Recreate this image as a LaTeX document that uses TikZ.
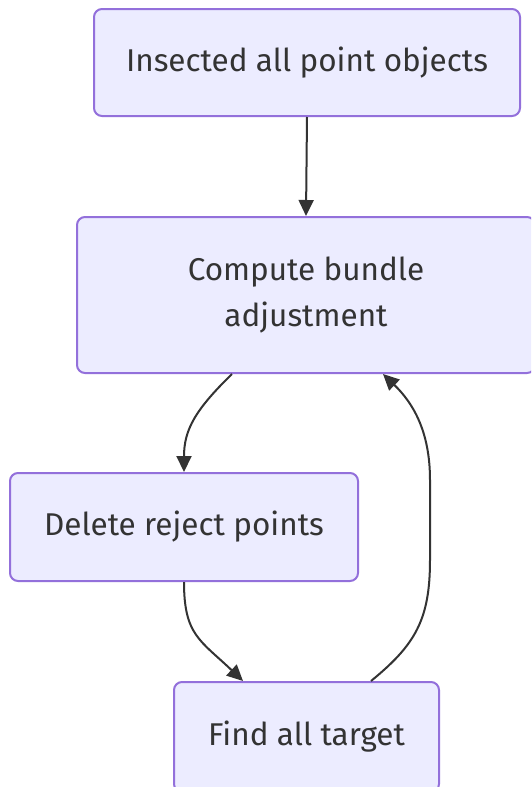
\documentclass[tikz,border=0pt]{standalone}
\usepackage{fontspec}
\setmainfont{Fira Sans}
\usetikzlibrary{arrows.meta}
\definecolor{boxfill}{HTML}{ECECFF}
\definecolor{boxline}{HTML}{9370DB}
\definecolor{ink}{HTML}{333333}
\tikzset{
  x=1pt, y=-1pt,
  flowbox/.style={draw=boxline, fill=boxfill, line width=2pt, rounded corners=8pt,
    text=ink, font=\fontsize{31.5}{46}\selectfont, align=center, inner sep=0pt},
  link/.style={draw=ink, line width=2pt, -{Triangle[length=16pt, width=15pt]}}
}
\begin{document}
\begin{tikzpicture}
\useasboundingbox (0,0) rectangle (531,787);
\begin{scope}
\clip (0,0) rectangle (531,787);
\node[flowbox, minimum width=426pt, minimum height=107pt] (n1) at (307,62.5) {Insected all point objects};
\node[flowbox, minimum width=458pt, minimum height=156pt] (n2) at (306,295) {Compute bundle\\adjustment};
\node[flowbox, minimum width=348pt, minimum height=108pt] (n3) at (184,527) {Delete reject points};
\node[flowbox, minimum width=265pt, minimum height=110pt] (n4) at (306.5,737) {Find all target};
\end{scope}
\draw[link] (n1.south) -- (n2.north);
\draw[link] (n2.south -| 232,0) .. controls (195,410) and (184,430) .. (n3.north);
\draw[link] (n3.south) .. controls (184,635) and (200,640) .. (n4.north -| 243,0);
\draw[link] (n4.north -| 371,0) .. controls (415,645) and (430,620) .. (430,560)
  -- (430,480) .. controls (430,430) and (412,402) .. (n2.south -| 383,0);
\end{tikzpicture}
\end{document}
